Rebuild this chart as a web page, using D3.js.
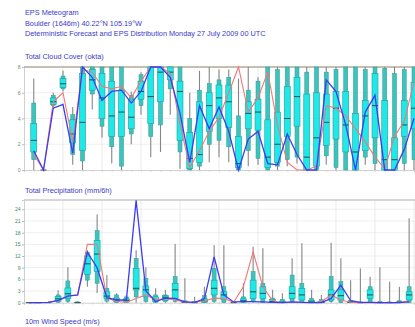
<!DOCTYPE html>
<html>
<head>
<meta charset="utf-8">
<script src="https://cdn.jsdelivr.net/npm/d3@7"></script>
<style>
  body { margin: 0; background: #fff; }
  svg { display: block; font-family: 'Liberation Sans', Arial, sans-serif; }
  .title { fill: #3a3ac8; font-size: 7.3px; }
  .tick text { font-size: 5px; }
</style>
</head>
<body>
<svg id="chart" width="415" height="327"></svg>
<script>
// forecast steps, hours after base time
const steps = d3.range(1, 41).map((i) => i * 6)

// Total cloud cover (okta): EPS distribution per step
const cloudMin = [0, 0, 4.8, 6.1, 0.4, 0, 4.7, 2.5, 0.5, 0, 2.0, 4.3, 1.0, 1.4, 4.3, 0.1, 0, 0, 0.6, 1.0, 0.6, 0, 0.3, 0.4, 0, 0, 0.3, 0.5, 0, 0, 0.4, 0, 0, 0, 0.4, 0, 0, 0, 0, 0]
const cloudP10 = [0.8, 0, 5.0, 6.3, 1.2, 0.7, 5.9, 3.4, 1.8, 0.3, 2.8, 5.0, 2.6, 3.5, 6.3, 1.4, 0, 0.3, 2.0, 2.3, 1.8, 0, 1.5, 0.9, 0, 0.3, 0.8, 1.0, 0, 0, 1.1, 0.2, 0, 0, 1.0, 0.5, 0, 0, 0.5, 0.8]
const cloudP25 = [1.4, 0, 5.1, 6.4, 2.1, 1.5, 6.2, 4.0, 2.6, 2.6, 3.2, 5.5, 3.6, 5.3, 7.0, 2.3, 0.1, 0.6, 3.0, 4.0, 3.3, 0.2, 3.2, 3.1, 0.2, 0.6, 2.6, 3.4, 0, 0.3, 1.9, 2.4, 1.4, 0, 1.5, 2.5, 0, 0, 2.6, 3.2]
const cloudMed = [2.3, 0, 5.3, 6.7, 2.8, 3.7, 7.0, 5.6, 4.2, 4.5, 4.1, 6.1, 5.7, 7.6, 7.6, 6.1, 0.9, 1.2, 5.0, 5.6, 5.3, 0.5, 4.4, 4.5, 1.0, 2.0, 4.0, 5.7, 1.0, 2.5, 3.7, 4.8, 3.5, 1.4, 4.2, 5.0, 0.8, 0.8, 3.5, 4.8]
const cloudP75 = [3.6, 0, 5.6, 7.1, 3.9, 7.5, 7.8, 7.5, 6.9, 6.2, 5.5, 6.9, 8, 8, 8, 6.9, 2.9, 5.3, 6.0, 6.6, 6.6, 2.6, 5.3, 5.5, 3.9, 4.5, 6.5, 7.2, 5.9, 6.0, 5.9, 6.1, 6.1, 4.4, 5.4, 7.5, 5.4, 2.5, 5.4, 6.8]
const cloudP90 = [5.2, 0, 5.8, 7.3, 4.3, 8, 8, 8, 8, 8, 5.8, 7.4, 8, 8, 8, 8, 4.0, 6.2, 6.7, 7.0, 7.2, 4.2, 6.2, 6.9, 8, 7.8, 8, 8, 7.6, 8, 7.6, 7.8, 8, 8, 7.8, 8, 7.9, 7.5, 7.8, 8]
const cloudMax = [7.1, 0, 6.0, 7.7, 4.9, 8, 8, 8, 8, 8, 6.1, 7.6, 8, 8, 8, 8, 6.0, 7.7, 8, 7.8, 7.8, 7.1, 8, 7.2, 8, 8, 8, 8, 8, 8, 8, 8, 8, 8, 8, 8, 8, 8, 8, 8]
// deterministic (blue) and control (red) forecasts
const cloudDet = [1.5, 0, 4.8, 5.1, 1.3, 8, 7.2, 5.4, 6.1, 6.2, 5.2, 6.1, 8, 8, 7.2, 4.4, 0.6, 5.0, 3.2, 4.9, 3.0, 0, 2.4, 3.0, 0.5, 0.4, 2.8, 1.2, 0, 0, 7.0, 6.1, 3.5, 0, 4.5, 5.8, 0, 0, 1.6, 4.0]
const cloudCtl = [1.2, 0, 5.3, 6.0, 2.2, 7.8, 7.6, 6.5, 6.3, 6.5, 5.6, 6.9, 8, 8, 7.5, 3.6, 0.2, 1.5, 3.0, 4.1, 6.0, 8, 4.5, 5.6, 7.6, 3.5, 0.6, 0, 0, 0.3, 5.0, 4.8, 4.2, 3.2, 2.2, 1.0, 0.1, 2.6, 3.8, 6.8]

// Total precipitation (mm/6h): EPS distribution per 6h interval
const precipMin = [0, 0, 0, 0, 0, 0, 4.1, 2.5, 0, 0, 0, 0, 0, 0, 0, 0, 0, 0, 0, 0, 0, 0, 0, 0, 0, 0, 0, 0, 0, 0, 0, 0, 0, 0, 0, 0, 0, 0, 0, 0]
const precipP10 = [0, 0, 0, 0.1, 0.3, 0, 5.8, 5.0, 0.4, 0, 0, 1.5, 0.3, 0, 0.3, 0.3, 0, 0, 0, 0.3, 0, 0, 0, 0.3, 0, 0, 0, 0.3, 0, 0, 0, 0.3, 0, 0, 0, 0, 0, 0, 0, 0]
const precipP25 = [0, 0, 0, 0.4, 1.1, 0, 7.3, 8.0, 1.1, 0.3, 0.2, 3.3, 1.5, 0.3, 0.6, 1.1, 0, 0, 0.1, 2.0, 0.7, 0, 0.2, 1.1, 1.1, 0.1, 0, 1.1, 0.7, 0, 0, 0.7, 0.7, 0, 0, 1.1, 0, 0, 0, 0.7]
const precipMed = [0, 0, 0, 1.0, 2.3, 0, 10.0, 12.5, 1.7, 0.7, 0.6, 3.7, 3.3, 0.8, 1.4, 3.3, 0.1, 0, 0.5, 3.7, 2.0, 0, 0.5, 2.8, 2.4, 0.3, 0.1, 2.4, 2.0, 0.2, 0.1, 2.0, 1.8, 0.1, 0, 2.0, 0, 0, 0.1, 2.0]
const precipP75 = [0, 0, 0, 1.6, 3.8, 0.1, 12.0, 16.0, 2.8, 1.2, 1.0, 8.8, 4.3, 1.5, 1.8, 5.0, 0.3, 0.1, 1.0, 5.8, 2.8, 0, 1.0, 5.8, 4.1, 0.8, 0.4, 4.1, 3.7, 0.6, 0.4, 3.3, 3.3, 0.3, 0.1, 3.3, 0.1, 0.1, 0.2, 2.8]
const precipP90 = [0, 0, 0.1, 2.0, 5.6, 0.2, 13.0, 18.5, 3.7, 2.0, 1.5, 11.4, 6.3, 2.0, 2.0, 6.7, 0.5, 0.3, 1.8, 8.8, 4.1, 0.1, 1.5, 8.0, 5.0, 1.2, 0.8, 7.1, 5.0, 1.1, 0.8, 6.7, 5.4, 0.6, 0.2, 4.1, 0.3, 0.2, 0.5, 4.1]
const precipMax = [0, 0, 0.3, 3.2, 9.1, 0.4, 13.5, 22.7, 7.1, 2.4, 2.0, 13.5, 9.1, 3.7, 3.3, 15.1, 6.3, 1.5, 4.1, 14.8, 14.8, 0.3, 5.0, 14.4, 14.0, 3.3, 2.4, 11.4, 15.3, 3.3, 2.0, 15.4, 11.4, 5.8, 8.8, 6.7, 9.1, 5.4, 4.1, 21.7]
const precipDet = [0, 0, 0.1, 0.6, 1.7, 2.0, 13.0, 9.0, 1.3, 0.7, 0.7, 26.3, 3.0, 0.3, 1.2, 1.1, 0.2, 0.1, 1.0, 11.8, 2.0, 0.2, 0.3, 0.3, 0.2, 0.1, 0, 0.2, 0.1, 0, 0, 1.1, 4.5, 0.5, 0.1, 0.1, 0, 0, 0, 0.2]
const precipCtl = [0, 0, 0.1, 0.5, 1.8, 1.9, 15.0, 15.0, 1.2, 0.3, 0.1, 1.1, 2.0, 0.8, 1.0, 0.7, 0.1, 0.1, 0.5, 1.1, 1.1, 0.1, 4.1, 13.1, 4.1, 0.5, 0, 0.1, 0.1, 0, 0.3, 2.0, 0.7, 0.1, 0, 0, 0, 0, 0, 0.5]

const cloudTicks = [0, 2, 4, 6, 8]
const precipTicks = [0, 3, 6, 9, 12, 15, 18, 21, 24]
const titleLines = [
  'EPS Meteogram',
  'Boulder (1646m) 40.22°N 105.19°W',
  'Deterministic Forecast and EPS Distribution Monday 27 July 2009 00 UTC',
]

const svg = d3.select('#chart')
const x = d3.scaleLinear([0, 240], [24, 414])
const dayTicks = d3.range(24, 241, 24)

svg.selectAll('text.head')
  .data(titleLines)
  .join('text')
  .classed('title', true)
  .attr('x', 25)
  .attr('y', (d, i) => 15 + i * 10.5)
  .text((d) => d)

function panel (opts) {
  const { y, ticks, label, labelY, hourShift, stats, det, ctl, tickColor, topColor } = opts
  const g = svg.append('g')
  const [y0, y1] = y.range()

  g.append('text').classed('title', true).attr('x', 25).attr('y', labelY).text(label)

  // grid
  g.append('g')
    .selectAll('line')
    .data(ticks.slice(1))
    .join('line')
    .attr('x1', x(0)).attr('x2', 415)
    .attr('y1', (d) => y(d)).attr('y2', (d) => y(d))
    .attr('stroke', '#e4e4e4').attr('stroke-width', 0.6)
  g.append('g')
    .selectAll('line')
    .data(dayTicks)
    .join('line')
    .attr('x1', (d) => x(d)).attr('x2', (d) => x(d))
    .attr('y1', y0).attr('y2', y1)
    .attr('stroke', '#dcdcdc').attr('stroke-width', 0.6)

  // axes
  const yAxis = g.append('g')
    .attr('transform', `translate(${ x(0) },0)`)
    .call(d3.axisLeft(y).tickValues(ticks).tickSize(2).tickPadding(1.5))
  yAxis.selectAll('.domain').attr('stroke', '#bbb').attr('stroke-width', 0.7)
  yAxis.selectAll('.tick line').attr('stroke', '#bbb')
  yAxis.selectAll('.tick text').attr('fill', tickColor)

  const xAxis = g.append('g')
    .attr('transform', `translate(0,${ y0 })`)
    .call(d3.axisBottom(x).tickValues(d3.range(0, 241, 6)).tickSize(2).tickFormat(''))
  xAxis.selectAll('.domain').attr('stroke', '#bbb').attr('stroke-width', 0.7)
  xAxis.selectAll('.tick line').attr('stroke', '#c8c8c8').attr('stroke-width', 0.6)

  g.append('line')
    .attr('x1', x(0)).attr('x2', 415).attr('y1', y1).attr('y2', y1)
    .attr('stroke', topColor).attr('stroke-width', 1.4)

  const rows = steps.map((h, i) => ({
    h: h + hourShift,
    min: stats[0][i], p10: stats[1][i], p25: stats[2][i], med: stats[3][i],
    p75: stats[4][i], p90: stats[5][i], max: stats[6][i],
  }))

  const box = g.append('g').selectAll('g').data(rows).join('g')
  box.append('line')
    .attr('x1', (d) => x(d.h)).attr('x2', (d) => x(d.h))
    .attr('y1', (d) => y(d.min)).attr('y2', (d) => y(d.max))
    .attr('stroke', '#858585').attr('stroke-width', 1.1)
  box.append('rect')
    .attr('x', (d) => x(d.h) - 2).attr('width', 4)
    .attr('y', (d) => y(d.p90)).attr('height', (d) => y(d.p10) - y(d.p90))
    .attr('fill', '#3cc4bc').attr('stroke', '#2a9c96').attr('stroke-width', 0.5)
  box.append('rect')
    .attr('x', (d) => x(d.h) - 3).attr('width', 6)
    .attr('y', (d) => y(d.p75)).attr('height', (d) => y(d.p25) - y(d.p75))
    .attr('fill', '#1ee8e8').attr('stroke', '#2a9c96').attr('stroke-width', 0.6)
  box.append('line')
    .attr('x1', (d) => x(d.h) - 3).attr('x2', (d) => x(d.h) + 3)
    .attr('y1', (d) => y(d.med)).attr('y2', (d) => y(d.med))
    .attr('stroke', '#1c4f4c').attr('stroke-width', 1)

  const line = (vals) => d3.line().x((d, i) => x(steps[i] + hourShift)).y((d) => y(d))(vals)
  g.append('path').attr('d', line(ctl))
    .attr('fill', 'none').attr('stroke', '#f07878').attr('stroke-width', 1.1)
  g.append('path').attr('d', line(det))
    .attr('fill', 'none').attr('stroke', '#3c3cf0').attr('stroke-width', 1.3)
}

panel({
  y: d3.scaleLinear([0, 8], [170, 67]),
  ticks: cloudTicks,
  label: 'Total Cloud Cover (okta)',
  labelY: 59,
  hourShift: 0,
  stats: [cloudMin, cloudP10, cloudP25, cloudMed, cloudP75, cloudP90, cloudMax],
  det: cloudDet,
  ctl: cloudCtl,
  tickColor: '#6a8a6a',
  topColor: '#b8ab98',
})

panel({
  y: d3.scaleLinear([0, 26.4], [302.7, 200]),
  ticks: precipTicks,
  label: 'Total Precipitation (mm/6h)',
  labelY: 192.5,
  hourShift: -3,
  stats: [precipMin, precipP10, precipP25, precipMed, precipP75, precipP90, precipMax],
  det: precipDet,
  ctl: precipCtl,
  tickColor: '#3c8c5c',
  topColor: '#c8c8c8',
})

svg.append('text').classed('title', true).attr('x', 25).attr('y', 324).text('10m Wind Speed (m/s)')
</script>
</body>
</html>
